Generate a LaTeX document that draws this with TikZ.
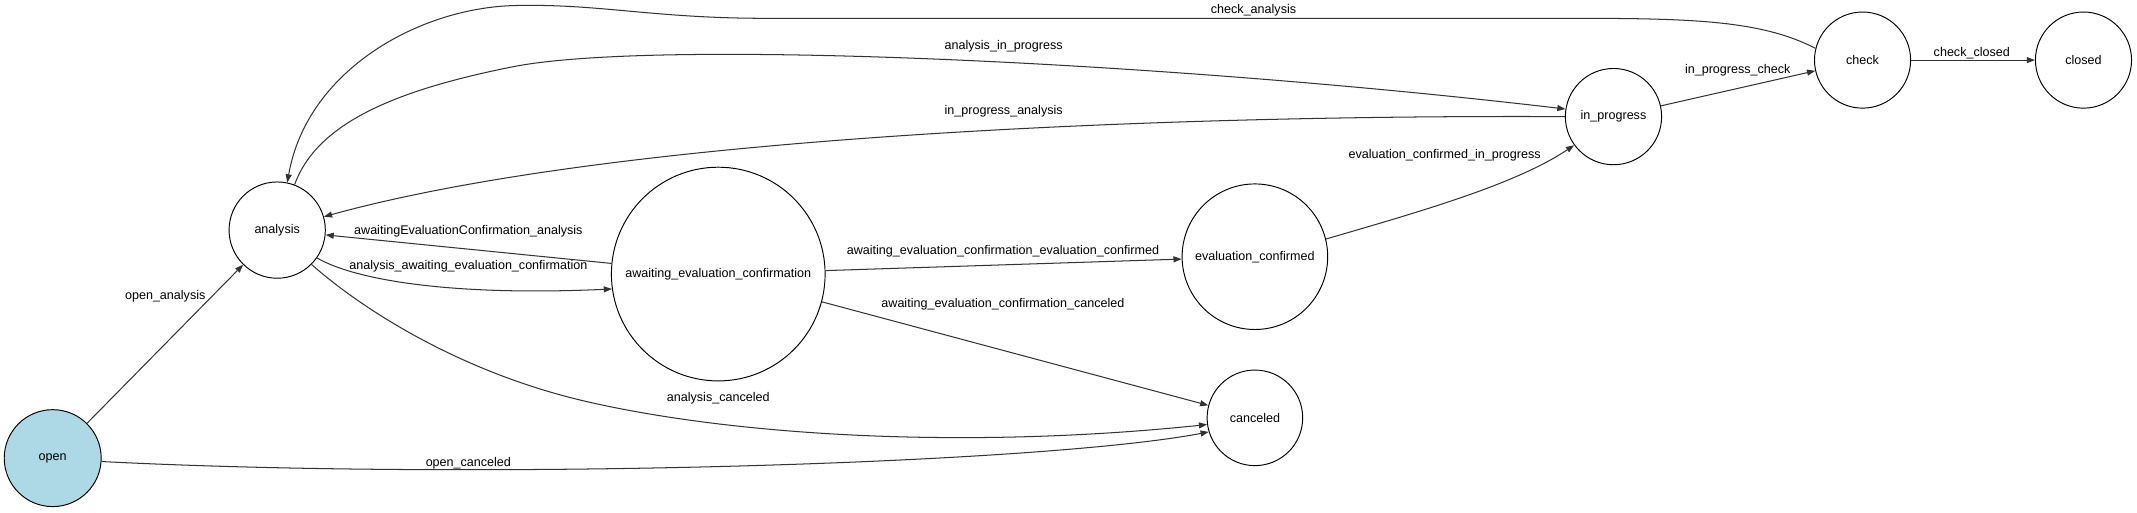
\documentclass[tikz,border=0pt]{standalone}
\usepackage{fontspec}
\setmainfont{Liberation Sans}
\usetikzlibrary{arrows.meta}
\definecolor{openblue}{RGB}{173,216,230}
\definecolor{edgecol}{RGB}{51,51,51}
\begin{document}
\begin{tikzpicture}[x=1pt,y=-1pt,
  state/.style={circle,draw=black,line width=0.7pt,inner sep=0pt,font=\fontsize{9.2}{11}\selectfont},
  lbl/.style={font=\fontsize{9.2}{11}\selectfont,inner sep=0pt},
  edge/.style={draw=edgecol,line width=0.75pt,-{Triangle[length=6pt,width=4.4pt]}}]
\useasboundingbox (0,0) rectangle (1565,375);
% states
\node[state,minimum size=71pt,fill=openblue] (open) at (38.6,335.5) {open};
\node[state,minimum size=70.5pt] (analysis) at (203,168.5) {analysis};
\node[state,minimum size=156.5pt] (awaiting) at (526,200.7) {awaiting\_evaluation\_confirmation};
\node[state,minimum size=106.6pt] (evconf) at (919,188) {evaluation\_confirmed};
\node[state,minimum size=70pt] (canceled) at (919,306) {canceled};
\node[state,minimum size=70.5pt] (inprog) at (1181.6,85.4) {in\_progress};
\node[state,minimum size=70.4pt] (check) at (1364,44) {check};
\node[state,minimum size=70.4pt] (closed) at (1525.8,44) {closed};
% edges
\draw[edge] (open) -- (analysis);
\draw[edge] (open.-4) .. controls (350,352) and (760,340) .. (canceled.197);
\draw[edge] (analysis.-35) .. controls (260,205) and (330,217) .. (awaiting.188);
\draw[edge] (awaiting) -- (analysis);
\draw[edge] (analysis.-45.5) .. controls (260,222) and (330,270) .. (425,293)
  .. controls (530,318) and (700,330) .. (canceled.188);
\draw[edge] (awaiting) -- (evconf);
\draw[edge] (awaiting) -- (canceled);
\draw[edge] (evconf.14.5) .. controls (1040,155) and (1110,135) .. (inprog.216.4);
\draw[edge] (inprog.180) .. controls (850,84) and (450,100) .. (analysis.16);
\draw[edge] (analysis.69) .. controls (232,90) and (290,66) .. (375,49)
  .. controls (480,28) and (850,45) .. (inprog.171);
\draw[edge] (inprog) -- (check);
\draw[edge] (check.166) .. controls (1290,15) and (1240,13.4) .. (1150,13.4) -- (560,13.4)
  .. controls (480,13.4) and (440,3) .. (381,4)
  .. controls (310,4) and (225,50) .. (analysis.78.5);
\draw[edge] (check) -- (closed);
% labels
\node[lbl] (l1) at (121,217) {open\_analysis};
\node[lbl] (l2) at (343,339) {open\_canceled};
\node[lbl] (l3) at (343,195) {analysis\_awaiting\_evaluation\_confirmation};
\node[lbl] (l4) at (343,169) {awaitingEvaluationConfirmation\_analysis};
\node[lbl] (l5) at (526,292) {analysis\_canceled};
\node[lbl] (l6) at (734.5,184) {awaiting\_evaluation\_confirmation\_evaluation\_confirmed};
\node[lbl] (l7) at (734.5,222.6) {awaiting\_evaluation\_confirmation\_canceled};
\node[lbl] (l8) at (1058,113.5) {evaluation\_confirmed\_in\_progress};
\node[lbl] (l9) at (735,81.3) {in\_progress\_analysis};
\node[lbl] (l10) at (735,33.7) {analysis\_in\_progress};
\node[lbl] (l11) at (918,7.8) {check\_analysis};
\node[lbl] (l12) at (1272.6,51.8) {in\_progress\_check};
\node[lbl] (l13) at (1444,39) {check\_closed};
\end{tikzpicture}
\end{document}
